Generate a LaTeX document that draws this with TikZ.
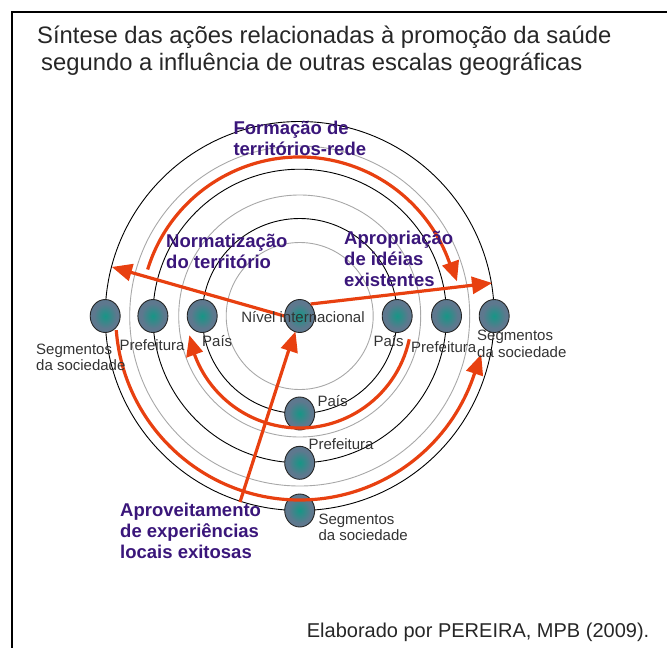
\documentclass[tikz,border=0pt]{standalone}
\usepackage{fontspec}
\setmainfont{Liberation Sans}
\usetikzlibrary{shapes.geometric}
\definecolor{vermelho}{RGB}{232,64,16}
\definecolor{roxo}{RGB}{58,22,122}
\definecolor{cinza}{RGB}{168,168,168}
\definecolor{ardosia}{RGB}{94,120,142}
\definecolor{verdeazul}{RGB}{22,150,134}
\definecolor{texto}{RGB}{51,51,51}
\pgfdeclareradialshading{noesc}{\pgfpoint{0bp}{0bp}}{color(0bp)=(verdeazul); color(19bp)=(ardosia); color(25bp)=(ardosia); color(50bp)=(ardosia)}
\begin{document}
\begin{tikzpicture}[x=1pt,y=1pt,
  escala/.style={ellipse,draw=black!85,line width=0.9,minimum width=30,minimum height=33,shading=noesc},
  rotulo/.style={text=texto,font=\fontsize{15}{16.5}\selectfont,align=left,anchor=base west},
  acao/.style={text=roxo,font=\fontsize{18.5}{21}\selectfont\bfseries,align=left,anchor=base west},
  seta/.style={draw=vermelho,line width=3.2,shorten >=6}]
\tikzstyle{every node}+=[inner sep=0pt]
\useasboundingbox (0,0) rectangle (667,-648);
\draw [black,line width=1.8] (667,-12) -- (12,-12) -- (12,-648);
\draw [cinza,line width=0.9] (299.7,-316) circle (73.5);
\draw [cinza,line width=0.9] (299.7,-316) circle (121);
\draw [cinza,line width=0.9] (299.7,-316) circle (170);
\draw [black,line width=0.9] (299.7,-316) circle (97.5);
\draw [black,line width=0.9] (299.7,-316) circle (146.8);
\draw [black,line width=0.9] (299.7,-316) circle (194.5);
\node [escala] (nivel) at (299.7,-316) {};
\node [escala] (paisesq) at (202.2,-316) {};
\node [escala] (prefesq) at (152.9,-316) {};
\node [escala] (segesq) at (105.2,-316) {};
\node [escala] (paisdir) at (397.2,-316) {};
\node [escala] (prefdir) at (446.5,-316) {};
\node [escala] (segdir) at (494.2,-316) {};
\node [escala] (paisinf) at (299.7,-413.5) {};
\node [escala] (prefinf) at (299.7,-462.8) {};
\node [escala] (seginf) at (299.7,-510.5) {};
\coordinate (esqponta) at (112,-267);
\coordinate (dirponta) at (492,-283);
\coordinate (aprovponta) at (240,-502);
\draw [seta] (nivel.west) -- (esqponta);
\fill [vermelho] (112,-267) -- (128.8,-281.1) -- (133.7,-263.8);
\draw [seta] (nivel.north east) -- (dirponta);
\fill [vermelho] (492,-283) -- (471.1,-276.4) -- (473.2,-294.2);
\draw [seta] (aprovponta) -- (nivel);
\fill [vermelho] (295.4,-331.7) -- (297.8,-353.5) -- (280.7,-348.0);
\draw [vermelho,line width=3.2,shift={(299.7,-316)}] (163:159) arc (163:18.5:159);
\fill [vermelho,shift={(299.7,-316)}] (12.5:161) -- (19.5:151) -- (19.5:169);
\draw [vermelho,line width=3.2,shift={(299.7,-316)}] (-12:112) arc (-12:-161:112);
\fill [vermelho,shift={(299.7,-316)}] (-170:112) -- (-159.8:103) -- (-159.8:121);
\draw [vermelho,line width=3.2,shift={(299.7,-316)}] (184.4:184) arc (184.4:343:184);
\fill [vermelho,shift={(299.7,-316)}] (348:185.5) -- (341.8:175) -- (341.8:193);
\node [rotulo,anchor=base] (lnivel) at (303,-322.7) {Nível internacional};
\node [rotulo] (lpaisesq) at (202,-346.5) {País};
\node [rotulo] (lprefesq) at (119.3,-350) {Prefeitura};
\node [rotulo] (lsegesq) at (36,-370.5) {Segmentos\\da sociedade};
\node [rotulo] (lpaisdir) at (373.3,-346.7) {País};
\node [rotulo] (lprefdir) at (411,-352) {Prefeitura};
\node [rotulo] (lsegdir) at (477,-357) {Segmentos\\da sociedade};
\node [rotulo] (lpaisinf) at (317.3,-406.7) {País};
\node [rotulo] (lprefinf) at (308.3,-449) {Prefeitura};
\node [rotulo] (lseginf) at (318.3,-540.5) {Segmentos\\da sociedade};
\node [acao] (formacao) at (233.3,-155) {Formação de\\territórios-rede};
\node [acao] (normat) at (166,-268.3) {Normatização\\do território};
\node [acao] (aprop) at (344,-286) {Apropriação\\de idéias\\existentes};
\node [acao] (aprov) at (120,-558) {Aproveitamento\\de experiências\\locais exitosas};
\node [anchor=base west,align=left,text=black!85,font=\fontsize{23.8}{27}\selectfont] (titulo) at (37,-70.3) {Síntese das ações relacionadas à promoção da saúde\\\hspace*{4pt}segundo a influência de outras escalas geográficas};
\node [anchor=base west,text=black!85,font=\fontsize{20}{24}\selectfont] (credito) at (306.7,-637.3) {Elaborado por PEREIRA, MPB (2009).};
\end{tikzpicture}
\end{document}
